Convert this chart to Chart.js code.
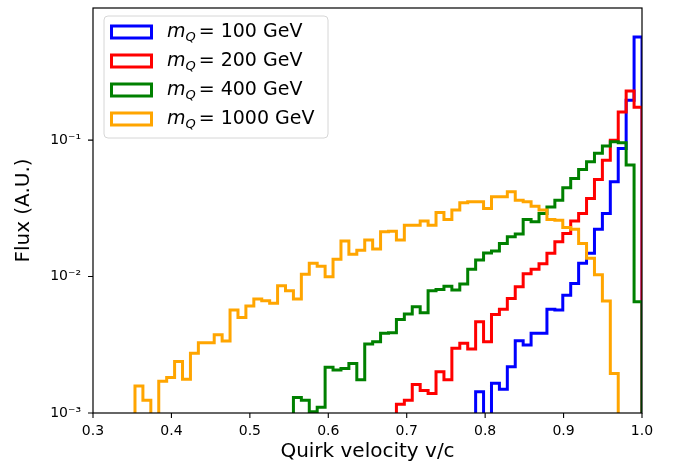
<!DOCTYPE html>
<html><head><meta charset="utf-8">
<script src="https://cdn.jsdelivr.net/npm/chart.js@4/dist/chart.umd.min.js"></script>
<style>html,body{margin:0;padding:0;background:#fff}#wrap{position:relative;width:673px;height:464px}</style>
</head><body><div id="wrap"><canvas id="c" width="673" height="464"></canvas></div>
<script>
// Histogram binning: edges at k / nBins on [0, 1]
const nBins = 99;
const xTickLabels = ['0.3','0.4','0.5','0.6','0.7','0.8','0.9','1.0'];
const yTickLabels = ['10\u207B\u00B3','10\u207B\u00B2','10\u207B\u00B9'];
const masses = [100, 200, 400, 1000];
const seriesColors = ['#0000ff', '#ff0000', '#008000', '#ffa500'];

const blueStartBin = 78;
const blueFlux = [1.43e-3, 0, 1.65e-3, 1.49e-3, 2.18e-3, 3.39e-3, 3.15e-3, 3.84e-3, 3.84e-3, 5.75e-3,
  5.69e-3, 7.31e-3, 8.91e-3, 1.25e-2, 1.48e-2, 2.22e-2, 2.90e-2, 4.95e-2, 8.69e-2, 0.196, 0.569];

const redStartBin = 68;
const redFlux = [1.16e-3, 1.24e-3, 1.62e-3, 1.46e-3, 1.39e-3, 2.01e-3, 1.75e-3, 2.98e-3, 3.25e-3, 2.95e-3,
  4.67e-3, 3.33e-3, 5.28e-3, 5.75e-3, 6.92e-3, 8.41e-3, 1.05e-2, 1.13e-2, 1.24e-2, 1.48e-2,
  1.80e-2, 2.07e-2, 2.55e-2, 2.90e-2, 3.74e-2, 5.15e-2, 7.13e-2, 0.100, 0.161, 0.229, 0.174];

const greenStartBin = 55;
const greenFlux = [1.30e-3, 1.24e-3, 1.02e-3, 1.10e-3, 2.16e-3, 2.07e-3, 2.12e-3, 2.31e-3, 1.75e-3, 3.20e-3,
  3.33e-3, 3.84e-3, 3.87e-3, 4.85e-3, 5.31e-3, 6.01e-3, 5.43e-3, 7.87e-3, 8.05e-3, 8.51e-3,
  7.96e-3, 8.81e-3, 1.13e-2, 1.32e-2, 1.49e-2, 1.54e-2, 1.75e-2, 1.96e-2, 2.05e-2, 2.62e-2,
  2.52e-2, 2.90e-2, 3.24e-2, 3.63e-2, 4.48e-2, 5.24e-2, 6.10e-2, 6.93e-2, 8.00e-2, 9.04e-2,
  9.73e-2, 9.55e-2, 6.56e-2, 6.53e-3];

const orangeStartBin = 35;
const orangeFlux = [1.58e-3, 1.24e-3, 0, 1.71e-3, 1.82e-3, 2.38e-3, 1.77e-3, 2.74e-3, 3.27e-3, 3.27e-3,
  3.74e-3, 3.37e-3, 5.69e-3, 5.02e-3, 6.08e-3, 6.84e-3, 6.65e-3, 6.37e-3, 8.57e-3, 7.87e-3,
  6.84e-3, 1.04e-2, 1.25e-2, 1.19e-2, 9.97e-3, 1.34e-2, 1.82e-2, 1.46e-2, 1.56e-2, 1.85e-2,
  1.59e-2, 2.13e-2, 2.15e-2, 1.85e-2, 2.38e-2, 2.38e-2, 2.55e-2, 2.38e-2, 2.95e-2, 2.62e-2,
  3.07e-2, 3.47e-2, 3.53e-2, 3.53e-2, 3.16e-2, 3.85e-2, 3.85e-2, 4.18e-2, 3.63e-2, 3.53e-2,
  3.28e-2, 3.07e-2, 2.62e-2, 2.59e-2, 2.29e-2, 2.22e-2, 1.75e-2, 1.36e-2, 1.03e-2, 6.62e-3,
  1.95e-3];

const yMin = 1e-3, yMax = 0.93;

function histPoints(startBin, flux) {
  const floor = 1e-6;
  const edge = k => k / nBins;
  const pts = [{x: edge(startBin), y: floor}];
  flux.forEach((v, i) => {
    const y = v > 0 ? v : floor;
    pts.push({x: edge(startBin + i), y});
    pts.push({x: edge(startBin + i + 1), y});
  });
  pts.push({x: edge(startBin + flux.length), y: floor});
  return pts;
}

const seriesDefs = [
  [blueStartBin, blueFlux], [redStartBin, redFlux], [greenStartBin, greenFlux], [orangeStartBin, orangeFlux]
];

const datasets = seriesDefs.map((s, i) => ({
  label: 'm_Q = ' + masses[i] + ' GeV',
  mass: masses[i],
  data: histPoints(s[0], s[1]),
  borderColor: seriesColors[i],
  backgroundColor: seriesColors[i],
  borderWidth: 3,
  pointRadius: 0,
  fill: false,
  tension: 0,
  borderJoinStyle: 'miter',
  borderCapStyle: 'butt',
  clip: 0,
  order: 4 - i
}));

const FONT = '"DejaVu Sans", sans-serif';

const framePlugin = {
  id: 'frame',
  afterDraw(chart) {
    const {ctx, chartArea: a, scales: {x, y}} = chart;
    ctx.save();
    ctx.strokeStyle = '#000';
    ctx.lineWidth = 1.2;
    ctx.strokeRect(a.left, a.top, a.right - a.left, a.bottom - a.top);
    ctx.lineWidth = 1.1;
    ctx.beginPath();
    x.ticks.forEach(t => {
      const px = x.getPixelForValue(t.value);
      ctx.moveTo(px, a.bottom); ctx.lineTo(px, a.bottom + 5);
    });
    y.ticks.forEach(t => {
      const py = y.getPixelForValue(t.value);
      if (py < a.top - 0.5 || py > a.bottom + 0.5) return;
      const e = Math.log10(t.value);
      const major = Math.abs(e - Math.round(e)) < 1e-6;
      ctx.moveTo(a.left - (major ? 5 : 3), py); ctx.lineTo(a.left, py);
    });
    ctx.stroke();

    // legend
    const bx = 104, by = 16, bw = 224, bh = 122, r = 4;
    ctx.beginPath();
    ctx.moveTo(bx + r, by); ctx.lineTo(bx + bw - r, by); ctx.arcTo(bx + bw, by, bx + bw, by + r, r);
    ctx.lineTo(bx + bw, by + bh - r); ctx.arcTo(bx + bw, by + bh, bx + bw - r, by + bh, r);
    ctx.lineTo(bx + r, by + bh); ctx.arcTo(bx, by + bh, bx, by + bh - r, r);
    ctx.lineTo(bx, by + r); ctx.arcTo(bx, by, bx + r, by, r);
    ctx.closePath();
    ctx.fillStyle = 'rgba(255,255,255,0.8)';
    ctx.fill();
    ctx.strokeStyle = '#d6d6d6';
    ctx.lineWidth = 1;
    ctx.stroke();
    chart.data.datasets.forEach((ds, i) => {
      const cy = 32 + i * 29;
      ctx.strokeStyle = ds.borderColor;
      ctx.lineWidth = 3;
      ctx.lineJoin = 'miter';
      ctx.strokeRect(111.5, cy - 6, 40, 12);
      ctx.fillStyle = '#000';
      ctx.textBaseline = 'middle';
      ctx.textAlign = 'left';
      let tx = 167;
      ctx.font = 'italic 19px ' + FONT;
      ctx.fillText('m', tx, cy);
      tx += ctx.measureText('m').width;
      ctx.font = 'italic 13px ' + FONT;
      ctx.fillText('Q', tx, cy + 6);
      tx += ctx.measureText('Q').width + 3;
      ctx.font = '19px ' + FONT;
      ctx.fillText('=', tx, cy);
      tx += ctx.measureText('=').width + 6;
      ctx.fillText(ds.mass + ' GeV', tx, cy);
    });
    ctx.restore();
  }
};

Chart.defaults.font.family = FONT;
Chart.defaults.color = '#000';

new Chart(document.getElementById('c'), {
  type: 'line',
  data: {datasets},
  options: {
    responsive: false,
    animation: false,
    devicePixelRatio: 1,
    layout: {padding: {left: 0, right: 31, top: 8, bottom: 0}},
    plugins: {legend: {display: false}, tooltip: {enabled: false}},
    scales: {
      x: {
        type: 'linear',
        min: 0.3, max: 1.0,
        grid: {display: false, drawTicks: false},
        border: {display: false},
        ticks: {
          stepSize: 0.1, autoSkip: false, padding: 10,
          font: {size: 14},
          callback: (v) => {
            const idx = Math.round((v - 0.3) * 10);
            return Math.abs(v - (0.3 + idx * 0.1)) < 1e-6 ? xTickLabels[idx] : null;
          }
        },
        title: {display: true, text: 'Quirk velocity v/c', font: {size: 20}, padding: {top: 0, bottom: 0}},
        afterFit: (s) => { s.height = 51; s.paddingLeft = 0; s.paddingRight = 0; }
      },
      y: {
        type: 'logarithmic',
        min: yMin, max: yMax,
        grid: {display: false, drawTicks: false},
        border: {display: false},
        ticks: {
          autoSkip: false, padding: 12,
          font: {size: 14},
          callback: (v) => {
            const e = Math.log10(v);
            const r = Math.round(e);
            return Math.abs(e - r) < 1e-6 ? (yTickLabels[r + 3] || null) : null;
          }
        },
        title: {display: true, text: 'Flux (A.U.)', font: {size: 20}, padding: {top: 12, bottom: 0}},
        afterFit: (s) => { s.width = 93; s.paddingTop = 0; s.paddingBottom = 0; }
      }
    }
  },
  plugins: [framePlugin]
});
</script>
</body></html>
